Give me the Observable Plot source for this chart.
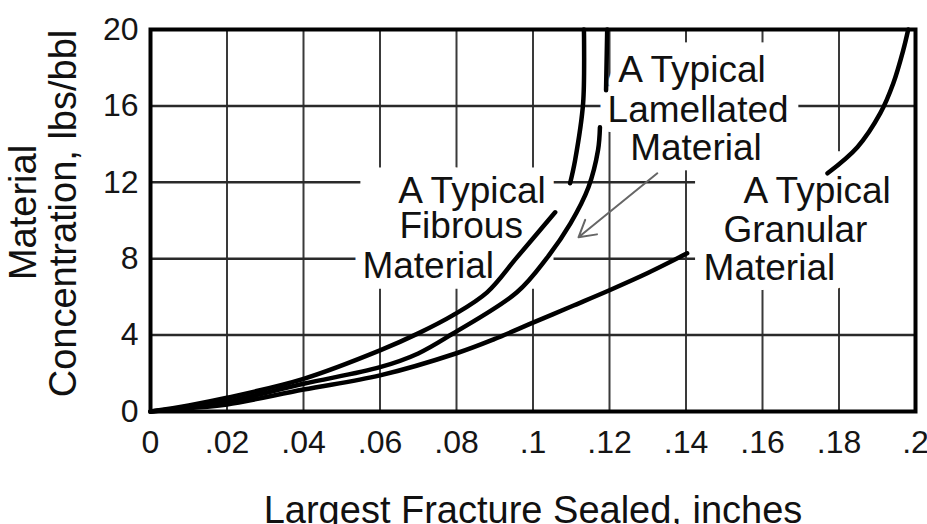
<!DOCTYPE html>
<html>
<head>
<meta charset="utf-8">
<script src="https://cdn.jsdelivr.net/npm/d3@7"></script>
<script src="https://cdn.jsdelivr.net/npm/@observablehq/plot@0.6"></script>
<style>
  html, body { margin: 0; padding: 0; background: #fff; }
</style>
</head>
<body>
<div id="chart"></div>
<script>
// ---- Axis ticks ----
const xTicks = [0, 0.02, 0.04, 0.06, 0.08, 0.1, 0.12, 0.14, 0.16, 0.18, 0.2];
const xTickLabels = ["0", ".02", ".04", ".06", ".08", ".1", ".12", ".14", ".16", ".18", ".2"];
const yTicks = [0, 4, 8, 12, 16, 20];

const xTitle = "Largest Fracture Sealed, inches";
const yTitleLines = ["Material", "Concentration, lbs/bbl"];

// ---- Curves (null = break in the printed curve) ----
const fibrousX = [0, 0.01, 0.02, 0.04, 0.06, 0.07, 0.079, 0.088, 0.0958, 0.1058, null, 0.1097, 0.111, 0.1131, 0.1133];
const fibrousY = [0, 0.32, 0.72, 1.71, 3.2, 4.09, 5.03, 6.24, 8.07, 10.43, null, 11.95, 13.15, 16.14, 20];

const lamellatedX = [0, 0.01, 0.02, 0.04, 0.06, 0.07, 0.079, 0.0958, 0.1035, 0.1098, 0.1145, 0.117, 0.1175, null, 0.1191, 0.1194];
const lamellatedY = [0, 0.24, 0.52, 1.45, 2.32, 3.04, 4.07, 6.24, 8.0, 9.85, 11.74, 13.68, 14.88, null, 16.82, 20];

const granularX = [0, 0.01, 0.02, 0.04, 0.06, 0.08, 0.09, 0.1, 0.11, 0.12, 0.13, 0.1403, null, 0.177, 0.1848, 0.1908, 0.1942, 0.1968, 0.1981];
const granularY = [0, 0.17, 0.37, 1.15, 1.89, 3.05, 3.8, 4.65, 5.5, 6.35, 7.25, 8.28, null, 12.47, 13.84, 15.62, 17.19, 18.92, 20];

// ---- Annotations (data coordinates, baseline of each line) ----
const labelText = ["A Typical", "Fibrous", "Material",
                   "A Typical", "Lamellated", "Material",
                   "A Typical", "Granular", "Material"];
const labelX = [0.0648, 0.0651, 0.0554,
                0.1223, 0.1195, 0.1254,
                0.155, 0.1498, 0.1446];
const labelY = [10.9, 9.07, 6.97,
                17.24, 15.15, 13.16,
                10.9, 8.86, 6.87];

// white panels printed behind each label block (data units)
const boxX1 = [0.055, 0.1215, 0.1425];
const boxX2 = [0.1055, 0.1695, 0.2];
const boxY1 = [6.4, 12.6, 6.45];
const boxY2 = [12.75, 19.3, 13.6];

const arrowFrom = [0.1325, 12.47];
const arrowTo = [0.1119, 9.12];

// ---- Build tables ----
const rows = (name, xs, ys) => xs.map((x, i) => ({series: name, x: x == null ? NaN : x, y: ys[i] == null ? NaN : ys[i]}));
const curves = [
  ...rows("Fibrous", fibrousX, fibrousY),
  ...rows("Lamellated", lamellatedX, lamellatedY),
  ...rows("Granular", granularX, granularY)
];
const labels = labelText.map((t, i) => ({text: t, x: labelX[i], y: labelY[i]}));
const boxes = boxX1.map((x1, i) => ({x1, x2: boxX2[i], y1: boxY1[i], y2: boxY2[i]}));
const arrows = [{x1: arrowFrom[0], y1: arrowFrom[1], x2: arrowTo[0], y2: arrowTo[1]}];

const fmtX = d => {
  const i = xTicks.findIndex(t => Math.abs(t - d) < 1e-9);
  return i >= 0 ? xTickLabels[i] : "";
};

const FONT = "'Liberation Sans', Arial, Helvetica, sans-serif";

const chart = Plot.plot({
  width: 927,
  height: 524,
  marginLeft: 150,
  marginRight: 12,
  marginTop: 29,
  marginBottom: 113,
  style: {fontFamily: FONT, fontSize: "32px", color: "#151515", background: "#fff", overflow: "visible"},
  x: {domain: [0, 0.2], ticks: xTicks, tickFormat: fmtX, tickSize: 0, tickPadding: 19, label: null},
  y: {domain: [0, 20], ticks: yTicks, tickSize: 0, tickPadding: 12, label: null},
  marks: [
    Plot.gridX(xTicks, {stroke: "#3a3a3a", strokeOpacity: 1, strokeWidth: 2}),
    Plot.gridY(yTicks, {stroke: "#2a2a2a", strokeOpacity: 1, strokeWidth: 2.5}),
    // white label backgrounds that interrupt the grid
    Plot.rect(boxes, {x1: "x1", x2: "x2", y1: "y1", y2: "y2", fill: "white"}),
    Plot.text(labels, {x: "x", y: "y", text: "text", textAnchor: "start", lineAnchor: "bottom",
      fontSize: 37, fill: "white", stroke: "white", strokeWidth: 20, strokeLinejoin: "round"}),
    Plot.frame({stroke: "#000", strokeWidth: 4}),
    Plot.line(curves, {x: "x", y: "y", z: "series", stroke: "#000", strokeWidth: 4.5, curve: "catmull-rom"}),
    Plot.arrow(arrows, {x1: "x1", y1: "y1", x2: "x2", y2: "y2", stroke: "#666", strokeWidth: 2, headLength: 14, bend: 0}),
    Plot.text(labels, {x: "x", y: "y", text: "text", textAnchor: "start", lineAnchor: "bottom",
      fontSize: 37, fill: "#111"}),
    // axis titles
    Plot.text([xTitle], {frameAnchor: "bottom", dy: 111, textAnchor: "middle", lineAnchor: "bottom", fontSize: 38, fill: "#111"}),
    Plot.text([yTitleLines[0]], {frameAnchor: "left", dx: -127, dy: -8, rotate: -90, textAnchor: "middle", lineAnchor: "middle", fontSize: 38, fill: "#111"}),
    Plot.text([yTitleLines[1]], {frameAnchor: "left", dx: -87, dy: -7, rotate: -90, textAnchor: "middle", lineAnchor: "middle", fontSize: 38, fill: "#111"})
  ]
});

document.getElementById("chart").appendChild(chart);
</script>
</body>
</html>
